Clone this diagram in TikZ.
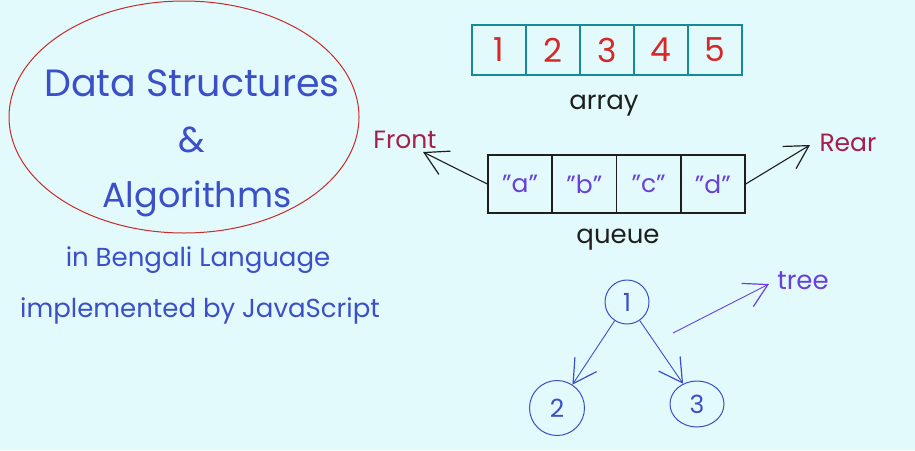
\documentclass[tikz,border=0pt]{standalone}
\usepackage{fontspec}
\setmainfont{Poppins}
\usetikzlibrary{shapes.geometric,arrows.meta}
\definecolor{bgc}{HTML}{E3FAFC}
\definecolor{tblue}{HTML}{3B4FC8}
\definecolor{ered}{HTML}{C92A2A}
\definecolor{teal}{HTML}{168A96}
\definecolor{nred}{HTML}{D62828}
\definecolor{tpurp}{HTML}{6741D9}
\definecolor{wine}{HTML}{A61E4D}
\definecolor{ink}{HTML}{1E1E1E}
\newcommand{\dq}{{\char34}}
\tikzset{
  barb/.style={-{Straight Barb[length=23pt,width=26pt,line width=1.2pt]}, line width=1.1pt},
  arrbox/.style={draw=teal, line width=1.3pt, minimum width=54pt, minimum height=50pt, inner sep=0pt, text=nred, font=\fontsize{33}{33}\selectfont},
  qbox/.style={draw=ink, line width=1.6pt, minimum width=64pt, minimum height=58pt, inner sep=0pt, text=tpurp, font=\fontsize{25}{25}\selectfont},
  tnode/.style={draw=tblue, circle, line width=1pt, inner sep=0pt, text=tblue, font=\fontsize{25}{25}\selectfont},
  label/.style={inner sep=0pt},
}
\begin{document}
\begin{tikzpicture}[x=1pt,y=-1pt]
\fill[bgc] (0,0) rectangle (915,450);
\useasboundingbox (0,0) rectangle (915,450);
% title ellipse
\node[ellipse, draw=ered, line width=1pt, minimum width=350pt, minimum height=232pt, inner sep=0pt] (ell) at (184,117) {};
\node[label, text=tblue, font=\fontsize{38}{38}\selectfont] (t1) at (192,83) {Data Structures};
\node[label, text=tblue, font=\fontsize{36}{36}\selectfont] (t2) at (192,140) {\&};
\node[label, text=tblue, font=\fontsize{35}{35}\selectfont] (t3) at (197,199) {Algorithms};
\node[label, text=tblue, font=\fontsize{26}{26}\selectfont] (t4) at (198,260) {in Bengali Language};
\node[label, text=tblue, font=\fontsize{26}{26}\selectfont] (t5) at (200,311) {implemented by JavaScript};
% array
\node[arrbox] (a1) at (499,50) {1};
\node[arrbox] (a2) at (553,50) {2};
\node[arrbox] (a3) at (607,50) {3};
\node[arrbox] (a4) at (661,50) {4};
\node[arrbox] (a5) at (715,50) {5};
\node[label, text=ink, font=\fontsize{26}{26}\selectfont] (arr) at (604,106) {array};
% queue
\node[qbox] (q1) at (520.1,184) {\dq a\dq};
\node[qbox] (q2) at (584.4,184) {\dq b\dq};
\node[qbox] (q3) at (648.6,184) {\dq c\dq};
\node[qbox] (q4) at (712.9,184) {\dq d\dq};
\node[label, text=ink, font=\fontsize{26}{26}\selectfont] (que) at (618,240) {queue};
\node[label, text=wine, font=\fontsize{25}{25}\selectfont] (front) at (405,140) {Front};
\node[label, text=wine, font=\fontsize{25}{25}\selectfont] (rear) at (848,143) {Rear};
\coordinate (fronttip) at (423,152);
\coordinate (reartip) at (810,145);
\draw[barb, ink] (q1.west) -- (fronttip);
\draw[barb, ink] (q4.east) -- (reartip);
% tree
\node[tnode, minimum size=44pt] (n1) at (627,302) {1};
\node[tnode, minimum size=55pt] (n2) at (557,408) {2};
\node[tnode, ellipse, minimum width=54pt, minimum height=46pt] (n3) at (697,404) {3};
\draw[barb, tblue, line width=0.9pt] (n1) -- (n2);
\draw[barb, tblue, line width=0.9pt] (n1) -- (n3);
\coordinate (ts) at (673,333);
\coordinate (treetip) at (769,284);
\node[label, text=tpurp, font=\fontsize{26}{26}\selectfont] (tree) at (803,281) {tree};
\draw[barb, tpurp, line width=0.9pt] (ts) -- (treetip);
\end{tikzpicture}
\end{document}
